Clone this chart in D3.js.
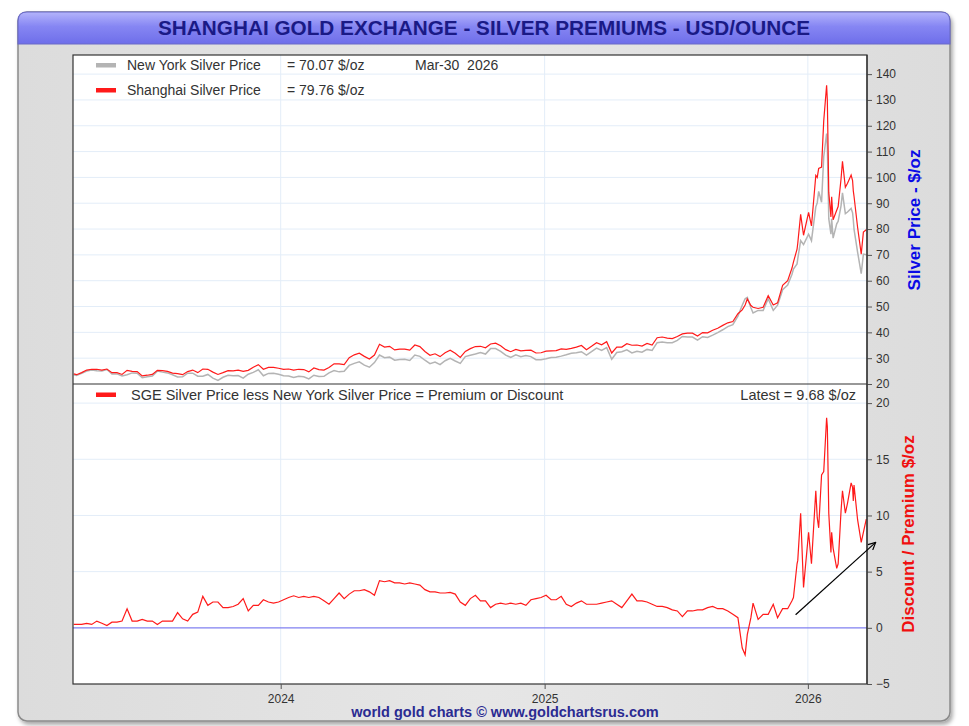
<!DOCTYPE html>
<html>
<head>
<meta charset="utf-8">
<script src="https://cdn.jsdelivr.net/npm/d3@7"></script>
<style>
  body { margin: 0; background: #fff; }
  svg { display: block; font-family: "Liberation Sans", Arial, sans-serif; }
  .tick text { font-size: 12px; fill: #333; }
  .tick line { stroke: #555; }
</style>
</head>
<body>
<svg id="chart" width="969" height="726"></svg>
<script>
var parse = d3.timeParse('%Y-%m-%d')

// weekly readings, Mar 2023 - Sep 2025 (first value is the left edge)
var weeklyDates = [parse('2023-03-20')]
  .concat(d3.timeFriday.range(parse('2023-03-24'), parse('2025-09-27')))

var nyWeekly = [23.6,
  23.3,24.1,25.0,25.4,25.1,25.0,25.6,23.9,23.9,23.1,23.6,24.3,24.2,22.4,22.8,23.1,25.0,24.6,24.3,23.6,
  22.7,22.8,24.2,24.2,23.0,23.0,23.7,22.3,21.4,22.6,23.4,23.2,23.3,22.3,23.8,24.5,25.5,23.2,24.1,24.2,23.8,
  23.2,23.1,22.5,23.0,22.8,22.0,23.4,22.9,23.0,24.3,25.2,24.7,24.9,27.2,28.0,28.6,27.3,26.5,28.3,31.2,
  30.2,30.4,29.2,29.5,29.6,29.1,31.2,30.7,29.2,27.9,28.5,27.5,29.0,29.9,28.9,28.0,30.6,31.1,31.6,32.2,
  31.6,33.7,33.7,32.6,31.2,30.3,31.3,30.6,31.0,30.6,29.4,29.4,
  29.8,30.3,30.4,30.8,31.3,31.9,32.1,32.5,31.2,32.5,33.9,33.0,34.1,29.6,32.2,32.5,33.2,32.0,32.7,32.3,
  33.4,33.0,36.0,36.3,36.0,36.0,36.9,38.4,38.2,38.2,37.0,38.3,38.0,38.9,39.9,41.0,42.2,43.0,46.3]

var premWeekly = [0.3,
  0.3,0.3,0.4,0.3,0.6,0.4,0.2,0.5,0.5,0.6,1.7,0.6,0.6,0.75,0.6,0.6,0.3,0.6,0.6,0.6,
  1.35,0.8,0.6,1.2,1.4,2.8,2.0,2.3,2.3,1.8,1.8,1.9,2.1,2.6,1.5,2.0,2.0,2.5,2.3,2.2,2.3,
  2.5,2.7,2.85,2.7,2.8,2.7,2.8,2.7,2.4,2.1,2.6,3.1,2.6,3.0,3.3,3.3,3.4,3.2,2.9,4.2,
  4.1,4.2,4.0,4.0,3.9,4.0,3.9,3.8,3.4,3.2,3.2,3.1,3.1,3.15,3.0,2.3,2.0,2.6,2.9,2.4,
  2.4,1.8,2.1,2.2,2.1,2.2,2.1,2.2,2.0,2.5,2.6,2.7,
  2.9,2.5,2.5,2.8,2.1,1.9,2.2,2.4,2.1,2.1,2.1,2.2,2.3,2.4,2.1,1.8,2.4,3.0,2.4,2.4,
  2.3,2.1,1.9,1.9,1.8,1.6,1.5,1.0,1.5,1.5,1.6,1.6,1.8,1.9,1.7,1.7,1.5,1.2,0.9]

// denser readings for the volatile end, Oct 2025 - Mar 2026
var endDates = ['2025-10-02','2025-10-06','2025-10-09','2025-10-14','2025-10-17','2025-10-24','2025-10-31',
  '2025-11-07','2025-11-14','2025-11-20','2025-11-27','2025-12-04','2025-12-10','2025-12-12','2025-12-17',
  '2025-12-18','2025-12-22','2025-12-26','2026-01-02','2026-01-06','2026-01-12','2026-01-14','2026-01-16',
  '2026-01-20','2026-01-23','2026-01-27','2026-01-28','2026-01-30','2026-02-02','2026-02-03','2026-02-05',
  '2026-02-10','2026-02-12','2026-02-16','2026-02-18','2026-02-22','2026-02-25','2026-03-02','2026-03-04',
  '2026-03-05','2026-03-06','2026-03-11','2026-03-16','2026-03-19','2026-03-23']

var nyEnd = [50.5,53,53.5,49.5,47.5,48.5,48.5,53,48.5,50.5,56.5,58.3,62.5,64.5,66.5,68.5,75.5,74,78,75.5,
  88.6,90.2,94.6,90.4,108,117,112,84,78,84,76.5,82,83,89,94,86,86.6,88,86.3,83.5,80,71,62.7,70.3,70.07]

var premEnd = [-1.8,-2.4,-0.6,0.9,2.2,0.75,1.2,1.2,2.1,0.9,1.7,1.7,2.4,2.7,5.7,6.0,10.2,3.6,8.5,5.7,
  12.2,9.8,8.9,13.6,13.9,18.7,17.9,10.2,6.7,8.5,7.1,5.3,5.7,10.4,12.2,10.2,11.1,12.9,12.5,11.3,12.7,9.6,7.6,8.5,9.68]

var topTicks = d3.range(20, 141, 10)
var botTicks = [-5, 0, 5, 10, 15, 20]
var legendTop = [
  {name: 'New York Silver Price', value: '= 70.07 $/oz', color: '#b4b4b4'},
  {name: 'Shanghai Silver Price', value: '= 79.76 $/oz', color: '#ff1a1a'}
]
var lastDate = 'Mar-30  2026'
var latestPremium = 'Latest = 9.68 $/oz'
var arrowPts = [['2025-12-15', 1.16], ['2026-04-05', 7.6]]

var dates = weeklyDates.concat(endDates.map(parse))
var nyAll = nyWeekly.concat(nyEnd)
var premAll = premWeekly.concat(premEnd)
var rows = dates.map((d, i) => ({date: d, ny: nyAll[i], prem: premAll[i], sge: nyAll[i] + premAll[i]}))

var L = 73, R = 867, T = 55, MID = 384, B = 684

var x = d3.scaleTime().domain([parse('2023-03-19'), parse('2026-03-24')]).range([L, R])
var yTop = d3.scaleLinear().domain([20, 147.4]).range([MID, T])
var yBot = d3.scaleLinear().domain([-5, 21.7]).range([B, MID])

var svg = d3.select('#chart')
var defs = svg.append('defs')

var shadow = defs.append('filter').attr('id', 'shadow').attr('x', -0.05).attr('y', -0.05).attr('width', 1.1).attr('height', 1.1)
shadow.append('feDropShadow').attr('dx', 2).attr('dy', 3).attr('stdDeviation', 2).attr('flood-color', '#000').attr('flood-opacity', 0.35)

var bg = defs.append('linearGradient').attr('id', 'bg').attr('x1', 0).attr('x2', 1).attr('y1', 0).attr('y2', 0)
bg.append('stop').attr('offset', '0%').attr('stop-color', '#dcdcdc')
bg.append('stop').attr('offset', '50%').attr('stop-color', '#e6e6e6')
bg.append('stop').attr('offset', '100%').attr('stop-color', '#dcdcdc')

var tg = defs.append('linearGradient').attr('id', 'titlebg').attr('x1', 0).attr('x2', 0).attr('y1', 0).attr('y2', 1)
tg.append('stop').attr('offset', '0%').attr('stop-color', '#b4b4fb')
tg.append('stop').attr('offset', '45%').attr('stop-color', '#8686f3')
tg.append('stop').attr('offset', '100%').attr('stop-color', '#6e6eea')

defs.append('clipPath').attr('id', 'clipTop').append('rect')
  .attr('x', L).attr('y', T).attr('width', R - L).attr('height', MID - T)
defs.append('clipPath').attr('id', 'clipBot').append('rect')
  .attr('x', L).attr('y', MID).attr('width', R - L).attr('height', B - MID)

defs.append('marker').attr('id', 'arrow').attr('viewBox', '0 0 10 10')
  .attr('refX', 9).attr('refY', 5).attr('markerWidth', 9).attr('markerHeight', 9)
  .attr('orient', 'auto').attr('markerUnits', 'userSpaceOnUse')
  .append('path').attr('d', 'M1,1 L9,5 L1,9').attr('fill', 'none').attr('stroke', '#000').attr('stroke-width', 1.3)

// outer frame + title bar
var fx0 = 18, fx1 = 950, fy0 = 12, fy1 = 721, r = 9
svg.append('rect').attr('x', fx0).attr('y', fy0).attr('width', fx1 - fx0).attr('height', fy1 - fy0).attr('rx', r)
  .attr('fill', 'url(#bg)').attr('stroke', '#8a8a8a').attr('stroke-width', 1.5).attr('filter', 'url(#shadow)')

var ty1 = 44
svg.append('path')
  .attr('d', `M${fx0},${ty1} L${fx0},${fy0 + r} Q${fx0},${fy0} ${fx0 + r},${fy0} L${fx1 - r},${fy0} Q${fx1},${fy0} ${fx1},${fy0 + r} L${fx1},${ty1} Z`)
  .attr('fill', 'url(#titlebg)').attr('stroke', '#6b6bc8').attr('stroke-width', 1.2)

svg.append('text').attr('x', 484).attr('y', 35).attr('text-anchor', 'middle')
  .attr('font-size', 19.5).attr('font-weight', 'bold').attr('fill', '#1a1a86')
  .attr('textLength', 652).attr('lengthAdjust', 'spacingAndGlyphs')
  .text('SHANGHAI GOLD EXCHANGE - SILVER PREMIUMS - USD/OUNCE')

// plot background
svg.append('rect').attr('x', L).attr('y', T).attr('width', R - L).attr('height', B - T).attr('fill', '#fff')

// gridlines
var grid = svg.append('g').attr('stroke', '#e3edf8').attr('stroke-width', 1)
grid.selectAll('.gt').data(topTicks.filter(d => d > 20)).join('line')
  .attr('x1', L).attr('x2', R).attr('y1', d => yTop(d)).attr('y2', d => yTop(d))
grid.selectAll('.gb').data(botTicks.filter(d => d > 0)).join('line')
  .attr('x1', L).attr('x2', R).attr('y1', d => yBot(d)).attr('y2', d => yBot(d))
grid.selectAll('.gv').data(x.ticks(d3.timeYear)).join('line')
  .attr('x1', d => x(d)).attr('x2', d => x(d)).attr('y1', T).attr('y2', B)

// zero line
svg.append('line').attr('x1', L).attr('x2', R).attr('y1', yBot(0)).attr('y2', yBot(0))
  .attr('stroke', '#8080f0').attr('stroke-width', 1.2)

// price lines
var gTop = svg.append('g').attr('clip-path', 'url(#clipTop)')
var lineNY = d3.line().x(d => x(d.date)).y(d => yTop(d.ny))
var lineSGE = d3.line().x(d => x(d.date)).y(d => yTop(d.sge))
gTop.append('path').datum(rows).attr('d', lineNY)
  .attr('fill', 'none').attr('stroke', '#b4b4b4').attr('stroke-width', 1.5)
gTop.append('path').datum(rows).attr('d', lineSGE)
  .attr('fill', 'none').attr('stroke', '#ff1a1a').attr('stroke-width', 1.2)

// premium line
var gBot = svg.append('g').attr('clip-path', 'url(#clipBot)')
var linePrem = d3.line().x(d => x(d.date)).y(d => yBot(d.prem))
gBot.append('path').datum(rows).attr('d', linePrem)
  .attr('fill', 'none').attr('stroke', '#ff1a1a').attr('stroke-width', 1.2)

// frame of plot + divider
svg.append('rect').attr('x', L).attr('y', T).attr('width', R - L).attr('height', B - T)
  .attr('fill', 'none').attr('stroke', '#333').attr('stroke-width', 1.2)
svg.append('line').attr('x1', L).attr('x2', R).attr('y1', MID).attr('y2', MID)
  .attr('stroke', '#333').attr('stroke-width', 1.2)

// axes
var axTop = svg.append('g').attr('transform', `translate(${R},0)`)
  .call(d3.axisRight(yTop).tickValues(topTicks).tickSize(5).tickPadding(4))
axTop.select('.domain').remove()
var axBot = svg.append('g').attr('transform', `translate(${R},0)`)
  .call(d3.axisRight(yBot).tickValues(botTicks).tickSize(5).tickPadding(4))
axBot.select('.domain').remove()
svg.append('line').attr('x1', R).attr('x2', R).attr('y1', T).attr('y2', B).attr('stroke', '#333').attr('stroke-width', 1.2)

var axX = svg.append('g').attr('transform', `translate(0,${B})`)
  .call(d3.axisBottom(x).ticks(d3.timeYear).tickFormat(d3.timeFormat('%Y')).tickSize(5).tickPadding(5))
axX.select('.domain').remove()

// axis titles
svg.append('text').attr('transform', 'translate(920,220) rotate(-90)').attr('text-anchor', 'middle')
  .attr('font-size', 17).attr('font-weight', 'bold').attr('fill', '#0a0ae6').text('Silver Price - $/oz')
svg.append('text').attr('transform', 'translate(914,534) rotate(-90)').attr('text-anchor', 'middle')
  .attr('font-size', 17).attr('font-weight', 'bold').attr('fill', '#f01010').text('Discount / Premium $/oz')

// legends
var lg = svg.append('g').attr('font-size', 14).attr('fill', '#333')
lg.selectAll('rect').data(legendTop).join('rect')
  .attr('x', 96).attr('y', (d, i) => 63 + i * 25).attr('width', 20).attr('height', 4.5).attr('fill', d => d.color)
lg.selectAll('.ln').data(legendTop).join('text').attr('class', 'ln')
  .attr('x', 127).attr('y', (d, i) => 70 + i * 25).text(d => d.name)
lg.selectAll('.lv').data(legendTop).join('text').attr('class', 'lv')
  .attr('x', 287).attr('y', (d, i) => 70 + i * 25).text(d => d.value)
lg.append('text').attr('x', 415).attr('y', 70).attr('xml:space', 'preserve').text(lastDate)

lg.append('rect').attr('x', 96).attr('y', 392.5).attr('width', 20).attr('height', 4.5).attr('fill', '#ff1a1a')
lg.append('text').attr('x', 131).attr('y', 399.5).attr('font-size', 14.5)
  .text('SGE Silver Price less New York Silver Price = Premium or Discount')
lg.append('text').attr('x', 856).attr('y', 399.5).attr('font-size', 14.5).attr('text-anchor', 'end').text(latestPremium)

// annotation arrow
svg.append('line')
  .attr('x1', x(parse(arrowPts[0][0]))).attr('y1', yBot(arrowPts[0][1]))
  .attr('x2', x(parse(arrowPts[1][0]))).attr('y2', yBot(arrowPts[1][1]))
  .attr('stroke', '#000').attr('stroke-width', 1.2).attr('marker-end', 'url(#arrow)')

// footer
svg.append('text').attr('x', 505).attr('y', 717).attr('text-anchor', 'middle')
  .attr('font-size', 14.5).attr('font-weight', 'bold').attr('fill', '#2b2b92')
  .text('world gold charts © www.goldchartsrus.com')
</script>
</body>
</html>
